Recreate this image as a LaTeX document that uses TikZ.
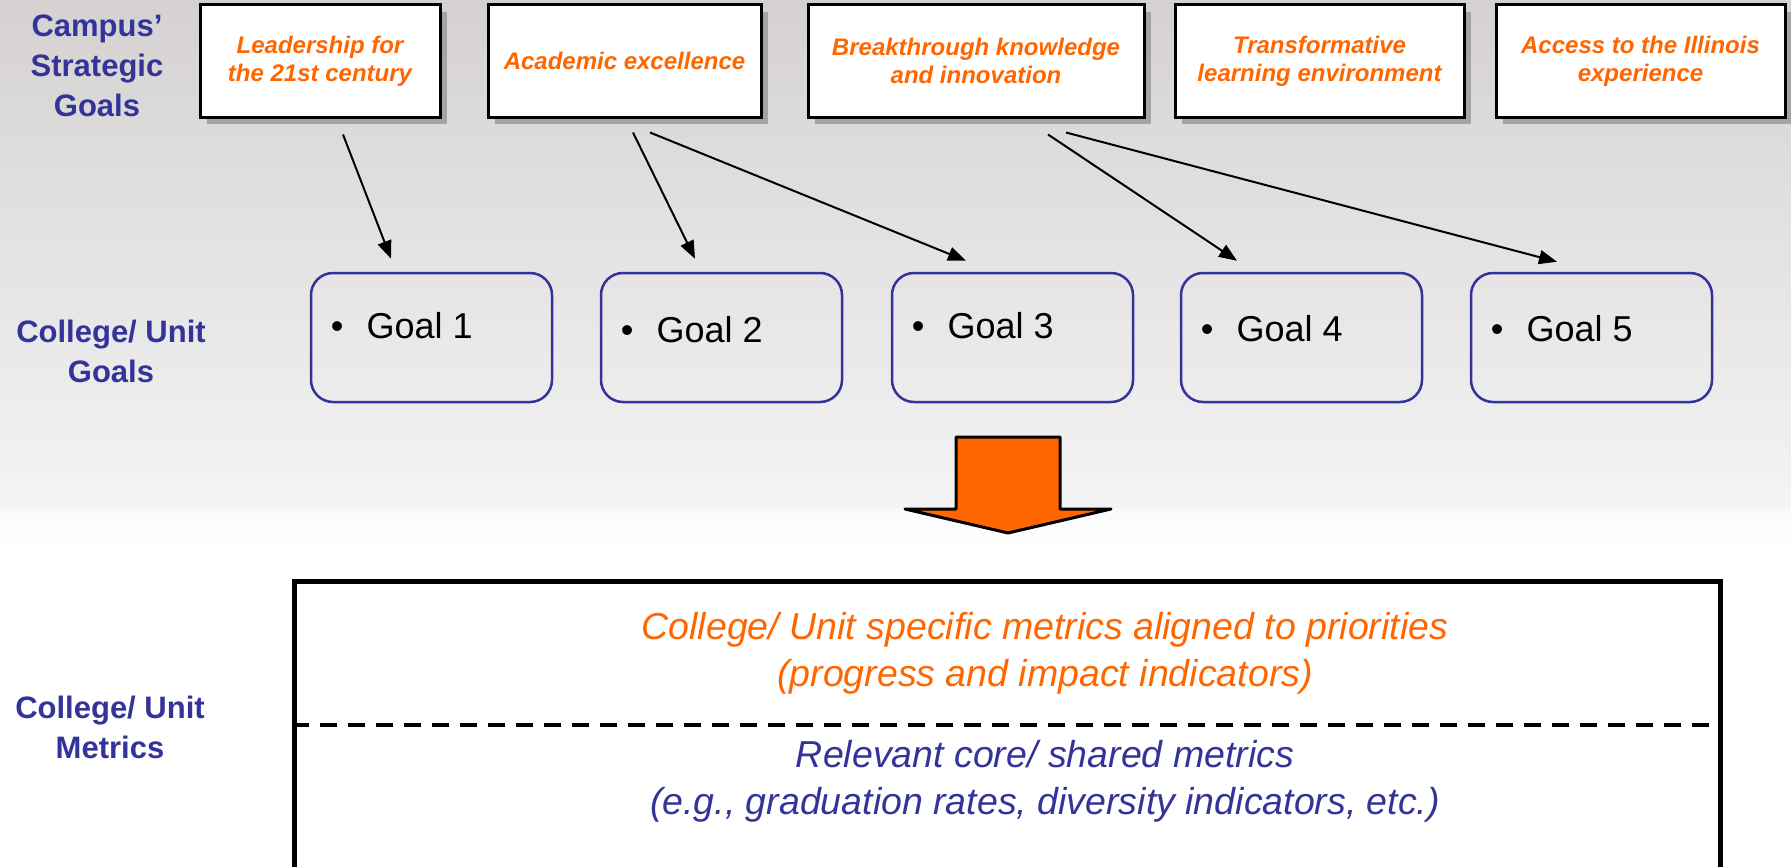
\documentclass[tikz,border=0pt]{standalone}
\usepackage{fontspec}
\setmainfont{Liberation Sans}
\usetikzlibrary{arrows.meta,shadows,calc}
\definecolor{uiblue}{HTML}{333399}
\definecolor{uiorange}{HTML}{FF6600}
\definecolor{bgtop}{HTML}{D5D1D1}
\definecolor{bgmid}{HTML}{F4F4F4}
\definecolor{bglow}{HTML}{FAFAFA}
\definecolor{shadowgray}{HTML}{A4A4A4}
\begin{document}
\begin{tikzpicture}[x=1pt,y=-1pt,
  sidelabel/.style={text=uiblue,align=center,font=\fontsize{31}{40}\selectfont\bfseries},
  topbox/.style={draw=black,line width=3pt,fill=white,minimum height=112pt,inner sep=0pt,
    text=uiorange,align=center,font=\fontsize{24}{28}\selectfont\bfseries\itshape,
    drop shadow={shadow xshift=7pt,shadow yshift=-7pt,fill=shadowgray,opacity=1}},
  goalbox/.style={draw=uiblue,line width=2.5pt,rounded corners=22pt,minimum width=241pt,
    minimum height=129pt,inner sep=0pt},
  goaltext/.style={anchor=west,inner sep=0pt,font=\fontsize{36}{40}\selectfont},
  link/.style={draw=black,line width=2pt,-{Triangle[length=18pt,width=14pt]}},
  metricbox/.style={draw=black,line width=5pt,minimum width=1426pt,minimum height=288pt,inner sep=0pt},
  metrictext/.style={align=center,font=\fontsize{37.5}{47}\selectfont\itshape}]
\useasboundingbox (0,0) rectangle (1791,867);
\shade[top color=bgtop,bottom color=bgmid] (0,0) rectangle (1791,509);
\shade[top color=bglow,bottom color=white] (0,509) rectangle (1791,548);
\fill[white] (0,548) rectangle (1791,867);

% side labels
\node[sidelabel] (lab1) at (97,66) {Campus’\\Strategic\\Goals};
\node[sidelabel] (lab2) at (111,351) {College/ Unit\\Goals};
\node[sidelabel] (lab3) at (110,727) {College/ Unit\\Metrics};

% strategic goals
\node[topbox,minimum width=240pt] (s1) at (320,61) {Leadership for\\the 21st century};
\node[topbox,minimum width=273pt] (s2) at (624.5,61) {Academic excellence};
\node[topbox,minimum width=336pt] (s3) at (976,61) {Breakthrough knowledge\\and innovation};
\node[topbox,minimum width=289pt] (s4) at (1319.5,61) {Transformative\\learning environment};
\node[topbox,minimum width=289pt] (s5) at (1640.5,61) {Access to the Illinois\\experience};

% college goals
\node[goalbox] (g1) at (431.5,337.5) {};
\node[goalbox] (g2) at (721.5,337.5) {};
\node[goalbox] (g3) at (1012.5,337.5) {};
\node[goalbox] (g4) at (1301.5,337.5) {};
\node[goalbox] (g5) at (1591.5,337.5) {};
\node[goaltext] (t1) at ($(g1.west)+(21,-11.5)$) {•\hspace{23pt}Goal 1};
\node[goaltext] (t2) at ($(g2.west)+(21,-7.5)$) {•\hspace{23pt}Goal 2};
\node[goaltext] (t3) at ($(g3.west)+(21,-11.5)$) {•\hspace{23pt}Goal 3};
\node[goaltext] (t4) at ($(g4.west)+(21,-8.5)$) {•\hspace{23pt}Goal 4};
\node[goaltext] (t5) at ($(g5.west)+(21,-8.5)$) {•\hspace{23pt}Goal 5};

% connectors
\coordinate (a1s) at ($(s1.south)+(23,16)$);
\coordinate (a2s) at ($(s2.south)+(8.5,14)$);
\coordinate (a3s) at ($(s2.south)+(25.5,14)$);
\coordinate (a4s) at ($(s3.south)+(72,16)$);
\coordinate (a5s) at ($(s3.south)+(90,14)$);
\coordinate (a1e) at ($(g1.north)+(-40.5,-13)$);
\coordinate (a2e) at ($(g2.north)+(-26.5,-13)$);
\coordinate (a3e) at ($(g3.north)+(-46.5,-11)$);
\coordinate (a4e) at ($(g4.north)+(-64.5,-11)$);
\coordinate (a5e) at ($(g5.north)+(-34.5,-10)$);
\draw[link] (a1s) -- (a1e);
\draw[link] (a2s) -- (a2e);
\draw[link] (a3s) -- (a3e);
\draw[link] (a4s) -- (a4e);
\draw[link] (a5s) -- (a5e);

% big orange arrow
\draw[fill=uiorange,draw=black,line width=3pt,line join=round]
  (956,437) -- (1060,437) -- (1060,509) -- (1111,509) -- (1008,533) -- (905,509) -- (956,509) -- cycle;

% metrics box
\node[metricbox] (mb) at (1007,725) {};
\draw[line width=3.5pt,dash pattern=on 17pt off 11pt] (mb.west) -- (mb.east);
\node[metrictext,text=uiorange] (m1) at (1045,653.5) {College/ Unit specific metrics aligned to priorities\\(progress and impact indicators)};
\node[metrictext,text=uiblue] (m2) at (1045,781.5) {Relevant core/ shared metrics\\(e.g., graduation rates, diversity indicators, etc.)};
\end{tikzpicture}
\end{document}
